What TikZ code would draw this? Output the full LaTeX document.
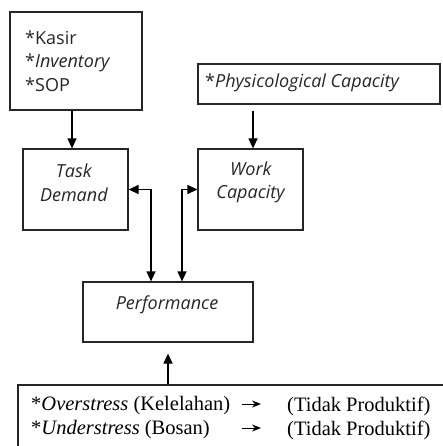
\documentclass[tikz,border=0pt]{standalone}
\usepackage{fontspec}
\setmainfont{Liberation Serif}
\setsansfont{Open Sans}
\usetikzlibrary{arrows.meta}
\begin{document}
\begin{tikzpicture}[x=1pt,y=-1pt,
  box/.style={draw=black!85, line width=1.2pt, inner sep=0pt, anchor=center},
  stxt/.style={font=\sffamily\fontsize{18}{23.5}\selectfont, inner sep=0pt, text=black!85},
  btxt/.style={font=\fontsize{20.5}{24}\selectfont, inner sep=0pt, anchor=west},
  arr/.style={line width=1.2pt, -{Triangle[length=10pt,width=9pt]}},
  darr/.style={line width=1.2pt, {Triangle[length=10pt,width=9pt]}-{Triangle[length=10pt,width=9pt]}},
  tarr/.style={line width=1pt, -{Stealth[length=9pt,width=7pt]}}]
\useasboundingbox (0,0) rectangle (442,446);
% boxes
\node[box, minimum width=132pt, minimum height=98pt] (kasir) at (76,61) {};
\node[stxt, anchor=west, align=left] (kasirtxt) at (25,61) {*Kasir\\*\textit{Inventory}\\*SOP};
\node[box, minimum width=242pt, minimum height=40pt] (phys) at (319,84) {};
\node[stxt, anchor=west] (phystxt) at (205,83) {*\textit{Physicological Capacity}};
\node[box, minimum width=105pt, minimum height=81pt] (task) at (75.5,189.5) {};
\node[stxt, align=center] (tasktxt) at (74,182.5) {\textit{Task}\\\textit{Demand}};
\node[box, minimum width=105pt, minimum height=81pt] (work) at (250.5,189.5) {};
\node[stxt, align=center] (worktxt) at (251,182.5) {\textit{Work}\\\textit{Capacity}};
\node[box, minimum width=170pt, minimum height=60pt] (perf) at (168,312) {};
\node[stxt] (perftxt) at (167,305) {\textit{Performance}};
\node[box, minimum width=450pt, minimum height=90pt] (stress) at (243,430) {};
% connectors
\draw[arr] ([xshift=-4pt]kasir.south) -- ([xshift=-3.5pt]task.north);
\draw[arr, shorten <=6pt] ([xshift=2.5pt]work.north |- phys.south) -- ([xshift=2.5pt]work.north);
\draw[darr] (task.east) -| ([xshift=-17pt]perf.north);
\draw[darr] (work.west) -| ([xshift=14pt]perf.north);
\draw[arr, shorten >=11pt] (stress.north -| perf.south) -- (perf.south);
% bottom text
\node[btxt] (over) at (31,406) {*\textit{Overstress} (Kelelahan)};
\node[btxt] (tp1) at (287,406) {(Tidak Produktif)};
\node[btxt] (under) at (31,430) {*\textit{Understress} (Bosan)};
\node[btxt] (tp2) at (287,430) {(Tidak Produktif)};
\coordinate (a1s) at (242,404);
\coordinate (a1e) at (261,404);
\coordinate (a2s) at (242,428);
\coordinate (a2e) at (261,428);
\draw[tarr] (a1s) -- (a1e);
\draw[tarr] (a2s) -- (a2e);
\end{tikzpicture}
\end{document}
